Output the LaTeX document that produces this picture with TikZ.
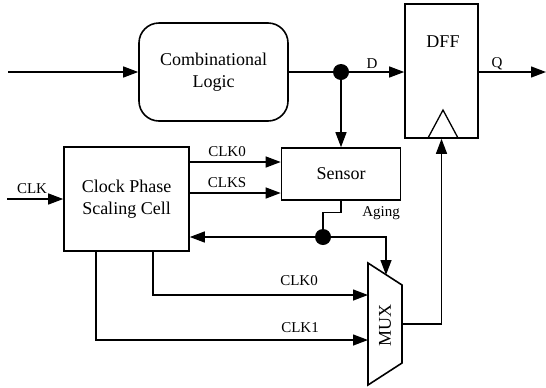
\documentclass[tikz,border=0pt]{standalone}
\usepackage{fontspec}
\setmainfont{Liberation Serif}
\usetikzlibrary{arrows.meta}
\newcommand{\blkfont}{\fontsize{18bp}{22bp}\selectfont}
\newcommand{\lblfont}{\fontsize{15bp}{17bp}\selectfont}
\begin{document}
\begin{tikzpicture}[x=1bp,y=-1bp,
  box/.style={draw,line width=1.6bp,inner sep=0pt,align=center,font=\blkfont},
  wire/.style={line width=1.3bp},
  arr/.style={wire,-{Triangle[length=15bp,width=11bp]}},
  dot/.style={circle,fill,inner sep=0pt,minimum size=16bp},
  lbl/.style={inner sep=0pt,font=\lblfont}]
\useasboundingbox (0,0) rectangle (546,387);

% blocks
\node[box,rounded corners=20bp,minimum width=149bp,minimum height=98bp] (comb) at (213.5,72) {Combinational\\Logic};
\node[box,minimum width=73bp,minimum height=134bp] (dff) at (441.5,71) {};
\node[inner sep=0pt,font=\blkfont] (dffl) at (443,42) {DFF};
\draw[wire] (428,138) -- (443,110) -- (458,138);
\node[box,minimum width=119bp,minimum height=52bp] (sensor) at (341,174) {Sensor};
\node[box,minimum width=125bp,minimum height=104bp] (cpsc) at (126.5,199) {Clock Phase\\Scaling Cell};

% multiplexer
\draw[line width=1.6bp] (368,263) -- (402,285) -- (402,363) -- (368,385) -- cycle;
\node[inner sep=0pt,font=\blkfont,rotate=90] (muxl) at (385,325) {MUX};
\coordinate (mux0) at (368,295);
\coordinate (mux1) at (368,340);
\coordinate (muxsel) at (386,275);
\coordinate (muxout) at (402,324);

% junctions
\node[dot] (dot1) at (341,72) {};
\node[dot] (dot2) at (323,237) {};

% data path
\coordinate (in) at (8,72);
\coordinate (q) at (546,72);
\draw[arr] (in) -- (comb.west);
\draw[wire] (comb.east) -- (dot1);
\draw[arr] (dot1) -- (dot1 -| dff.west);
\draw[arr] (dot1 -| dff.east) -- (q);
\draw[arr] (dot1) -- (sensor.north);

% clock path
\coordinate (clk) at (7,199);
\draw[arr] (clk) -- (cpsc.west);
\coordinate (t0) at (0,162);
\coordinate (ts) at (0,193);
\draw[arr] (t0 -| cpsc.east) -- (t0 -| sensor.west);
\draw[arr] (ts -| cpsc.east) -- (ts -| sensor.west);
\draw[wire] (sensor.south) -- ++(0,12) -| (dot2);
\draw[arr] (dot2) -- (dot2 -| cpsc.east);
\draw[arr] (dot2) -| (muxsel);
\coordinate (b0) at (153,0);
\coordinate (b1) at (96,0);
\draw[arr] (b0 |- cpsc.south) |- (mux0);
\draw[arr] (b1 |- cpsc.south) |- (mux1);
\draw[arr] (muxout) -| (dff.south);

% signal labels
\node[lbl] (ld) at (372,64) {D};
\node[lbl] (lq) at (497,64) {Q};
\node[lbl] (lclk) at (32,189) {CLK};
\node[lbl] (lck0a) at (227,152) {CLK0};
\node[lbl] (lcks) at (227,183) {CLKS};
\node[lbl] (laging) at (381,213) {Aging};
\node[lbl] (lck0b) at (299,281) {CLK0};
\node[lbl] (lck1) at (300,328) {CLK1};
\end{tikzpicture}
\end{document}
